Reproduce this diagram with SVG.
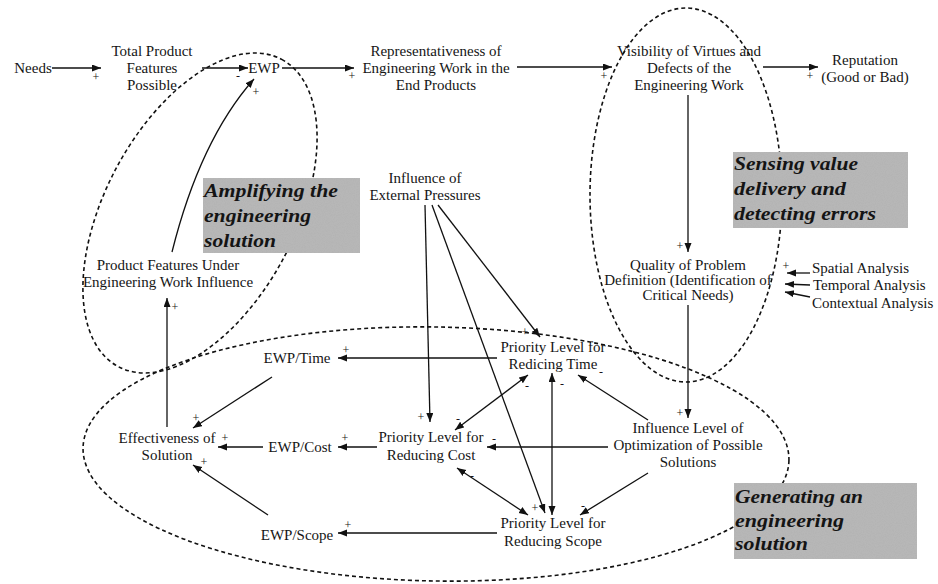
<svg xmlns="http://www.w3.org/2000/svg" width="938" height="584" viewBox="0 0 938 584">
  <style>
    .t { font-family: "Liberation Serif", "Times New Roman", serif; font-size: 15px; fill: #151515; text-anchor: middle; }
    .s { font-family: "Liberation Serif", "Times New Roman", serif; font-size: 12px; fill: #151515; text-anchor: middle; }
    .b { font-family: "Liberation Serif", "Times New Roman", serif; font-size: 19px; font-weight: bold; font-style: italic; fill: #141414; }
    .box { fill: #b3b3b3; }
    .zone { fill: none; stroke: #111; stroke-width: 1.6; stroke-dasharray: 4 3; }
    .c { fill: none; stroke: #111; stroke-width: 1.3; marker-end: url(#ah); }
    .d { fill: none; stroke: #111; stroke-width: 1.3; marker-end: url(#ah); marker-start: url(#ah); }
  </style>
  <defs>
    <marker id="ah" markerUnits="userSpaceOnUse" markerWidth="10" markerHeight="8" refX="9" refY="3.5" orient="auto-start-reverse">
      <path d="M0,0 L9,3.5 L0,7 z" fill="#111"/>
    </marker>
    <filter id="grain" x="0" y="0" width="100%" height="100%">
      <feTurbulence type="fractalNoise" baseFrequency="0.9" numOctaves="2" seed="3" result="n"/>
      <feColorMatrix in="n" type="matrix" values="0 0 0 0 0.55  0 0 0 0 0.55  0 0 0 0 0.55  0 0 0 0.35 0" result="g"/>
      <feComposite in="g" in2="SourceGraphic" operator="in" result="gc"/>
      <feMerge><feMergeNode in="SourceGraphic"/><feMergeNode in="gc"/></feMerge>
    </filter>
  </defs>

  <!-- dashed grouping outlines -->
  <g id="zones">
    <ellipse class="zone" cx="200" cy="213" rx="174" ry="95" transform="rotate(-62 200 213)"/>
    <ellipse class="zone" cx="686" cy="195" rx="96" ry="187"/>
    <ellipse class="zone" cx="436" cy="454" rx="353" ry="127" transform="rotate(1 436 454)"/>
  </g>

  <!-- shaded zone captions -->
  <g id="caption-amplifying">
    <rect class="box" x="203" y="178" width="157" height="75" filter="url(#grain)"/>
    <text class="b" x="204" y="197" textLength="134" lengthAdjust="spacingAndGlyphs">Amplifying the</text>
    <text class="b" x="204" y="222" textLength="107" lengthAdjust="spacingAndGlyphs">engineering</text>
    <text class="b" x="204" y="247" textLength="72" lengthAdjust="spacingAndGlyphs">solution</text>
  </g>
  <g id="caption-sensing">
    <rect class="box" x="733" y="152" width="175" height="76" filter="url(#grain)"/>
    <text class="b" x="734" y="170" textLength="124" lengthAdjust="spacingAndGlyphs">Sensing value</text>
    <text class="b" x="734" y="195" textLength="112" lengthAdjust="spacingAndGlyphs">delivery and</text>
    <text class="b" x="734" y="220" textLength="142" lengthAdjust="spacingAndGlyphs">detecting errors</text>
  </g>
  <g id="caption-generating">
    <rect class="box" x="734" y="483" width="183" height="76" filter="url(#grain)"/>
    <text class="b" x="735" y="503" textLength="128" lengthAdjust="spacingAndGlyphs">Generating an</text>
    <text class="b" x="735" y="527" textLength="109" lengthAdjust="spacingAndGlyphs">engineering</text>
    <text class="b" x="735" y="550" textLength="73" lengthAdjust="spacingAndGlyphs">solution</text>
  </g>

  <!-- connectors -->
  <g id="connectors">
    <line class="c" x1="52" y1="68" x2="101" y2="68"/>
    <line class="c" x1="202" y1="68" x2="248" y2="68"/>
    <line class="c" x1="282" y1="68" x2="354" y2="68"/>
    <line class="c" x1="517" y1="67" x2="612" y2="67"/>
    <line class="c" x1="763" y1="67" x2="818" y2="67"/>
    <path class="c" d="M172,252 Q200,140 254,79"/>
    <line class="c" x1="167" y1="427" x2="167" y2="298"/>
    <line class="c" x1="688" y1="95" x2="688" y2="252"/>
    <line class="c" x1="688" y1="305" x2="688" y2="418"/>
    <line class="c" x1="810" y1="273" x2="787" y2="273"/>
    <line class="c" x1="810" y1="285" x2="785" y2="284"/>
    <line class="c" x1="810" y1="297" x2="785" y2="292"/>
    <line class="c" x1="425" y1="205" x2="430" y2="422"/>
    <line class="c" x1="432" y1="205" x2="545" y2="513"/>
    <line class="c" x1="438" y1="205" x2="540" y2="337"/>
    <line class="d" x1="528" y1="375" x2="455" y2="430"/>
    <line class="d" x1="552" y1="373" x2="552" y2="515"/>
    <line class="d" x1="457" y1="468" x2="528" y2="515"/>
    <line class="c" x1="648" y1="420" x2="578" y2="375"/>
    <line class="c" x1="608" y1="447" x2="487" y2="447"/>
    <line class="c" x1="648" y1="473" x2="580" y2="515"/>
    <line class="c" x1="497" y1="358" x2="338" y2="358"/>
    <line class="c" x1="377" y1="447" x2="338" y2="447"/>
    <line class="c" x1="497" y1="533" x2="338" y2="533"/>
    <line class="c" x1="272" y1="377" x2="193" y2="428"/>
    <line class="c" x1="263" y1="447" x2="218" y2="447"/>
    <line class="c" x1="268" y1="515" x2="193" y2="465"/>
  </g>

  <!-- link polarity signs -->
  <g id="polarities">
    <text class="s" x="96" y="81">+</text>
    <text class="s" x="238" y="80">-</text>
    <text class="s" x="256" y="96">+</text>
    <text class="s" x="352" y="80">+</text>
    <text class="s" x="604" y="80">+</text>
    <text class="s" x="810" y="80">+</text>
    <text class="s" x="175" y="311">+</text>
    <text class="s" x="680" y="250">+</text>
    <text class="s" x="786" y="270">+</text>
    <text class="s" x="680" y="417">+</text>
    <text class="s" x="525" y="336">+</text>
    <text class="s" x="421" y="421">+</text>
    <text class="s" x="535" y="512">+</text>
    <text class="s" x="527" y="390">-</text>
    <text class="s" x="562" y="388">-</text>
    <text class="s" x="601" y="376">-</text>
    <text class="s" x="458" y="423">-</text>
    <text class="s" x="494" y="443">-</text>
    <text class="s" x="472" y="480">-</text>
    <text class="s" x="583" y="510">-</text>
    <text class="s" x="346" y="354">+</text>
    <text class="s" x="345" y="442">+</text>
    <text class="s" x="348" y="529">+</text>
    <text class="s" x="196" y="422">+</text>
    <text class="s" x="225" y="442">+</text>
    <text class="s" x="204" y="466">+</text>
  </g>

  <!-- nodes -->
  <g id="needs"><text class="t" x="33" y="73">Needs</text></g>
  <g id="total-product-features">
    <text class="t" x="152" y="56">Total Product</text>
    <text class="t" x="152" y="73">Features</text>
    <text class="t" x="152" y="90">Possible</text>
  </g>
  <g id="ewp"><text class="t" x="264" y="73">EWP</text></g>
  <g id="representativeness">
    <text class="t" x="436" y="56">Representativeness of</text>
    <text class="t" x="436" y="73">Engineering Work in the</text>
    <text class="t" x="436" y="90">End Products</text>
  </g>
  <g id="visibility">
    <text class="t" x="689" y="56">Visibility of Virtues and</text>
    <text class="t" x="689" y="73">Defects of the</text>
    <text class="t" x="689" y="90">Engineering Work</text>
  </g>
  <g id="reputation">
    <text class="t" x="865" y="65">Reputation</text>
    <text class="t" x="865" y="82">(Good or Bad)</text>
  </g>
  <g id="external-pressures">
    <text class="t" x="425" y="183">Influence of</text>
    <text class="t" x="425" y="200">External Pressures</text>
  </g>
  <g id="product-features-under">
    <text class="t" x="168" y="270">Product Features Under</text>
    <text class="t" x="168" y="287">Engineering Work Influence</text>
  </g>
  <g id="problem-definition">
    <text class="t" x="688" y="270">Quality of Problem</text>
    <text class="t" x="688" y="285">Definition (Identification of</text>
    <text class="t" x="688" y="300">Critical Needs)</text>
  </g>
  <g id="spatial"><text class="t" x="812" y="273" style="text-anchor:start">Spatial Analysis</text></g>
  <g id="temporal"><text class="t" x="813" y="290" style="text-anchor:start">Temporal Analysis</text></g>
  <g id="contextual"><text class="t" x="812" y="308" style="text-anchor:start">Contextual Analysis</text></g>
  <g id="priority-time">
    <text class="t" x="553" y="352">Priority Level for</text>
    <text class="t" x="553" y="369">Redicing Time</text>
  </g>
  <g id="priority-cost">
    <text class="t" x="431" y="442">Priority Level for</text>
    <text class="t" x="431" y="460">Reducing Cost</text>
  </g>
  <g id="priority-scope">
    <text class="t" x="553" y="528">Priority Level for</text>
    <text class="t" x="553" y="546">Reducing Scope</text>
  </g>
  <g id="optimization-influence">
    <text class="t" x="688" y="433">Influence Level of</text>
    <text class="t" x="688" y="450">Optimization of Possible</text>
    <text class="t" x="688" y="467">Solutions</text>
  </g>
  <g id="ewp-time"><text class="t" x="297" y="363">EWP/Time</text></g>
  <g id="ewp-cost"><text class="t" x="300" y="452">EWP/Cost</text></g>
  <g id="ewp-scope"><text class="t" x="297" y="540">EWP/Scope</text></g>
  <g id="effectiveness">
    <text class="t" x="167" y="443">Effectiveness of</text>
    <text class="t" x="167" y="460">Solution</text>
  </g>
</svg>
